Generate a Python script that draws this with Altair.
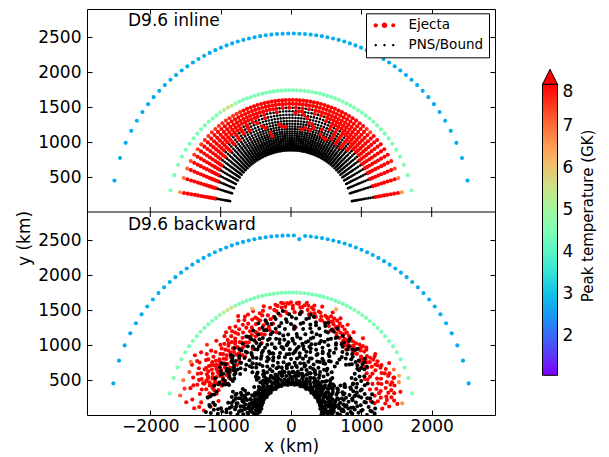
import altair as alt
import numpy as np
import pandas as pd

# ------------------------------------------------------------------ data
panel_labels = ["D9.6 inline", "D9.6 backward"]
kinds = ["Ejecta", "PNS/Bound"]
x_ticks = [-2000, -1000, 0, 1000, 2000]
y_ticks = [500, 1000, 1500, 2000, 2500]
cbar_ticks = [2, 3, 4, 5, 6, 7, 8]

# tracer ray angles (deg)
ray_theta = [10.14, 17.61, 22.80, 27.05, 30.75, 34.09, 37.17, 40.04, 42.75, 45.32,
             47.79, 50.16, 52.45, 54.68, 56.85, 58.96, 61.03, 63.05, 65.05, 67.01,
             68.94, 70.85, 72.73, 74.60, 76.45, 78.28, 80.10, 81.92, 83.72, 85.52,
             87.31, 89.10, 90.90, 92.69, 94.48, 96.28, 98.08, 99.90, 101.72, 103.55,
             105.40, 107.27, 109.15, 111.06, 112.99, 114.95, 116.95, 118.97, 121.04, 123.15,
             125.32, 127.55, 129.84, 132.21, 134.68, 137.25, 139.96, 142.83, 145.91, 149.25,
             152.95, 157.20, 162.39, 169.86]
# tracer shell radii (km), inline panel
shell_r = [880, 900, 920, 940, 960, 985, 1010, 1035, 1060, 1090, 1120, 1150, 1185,
           1220, 1260, 1300, 1345, 1390, 1440, 1490, 1545, 1600]
# radius where ejecta begin along each ray (inline)
inline_bound = [1195, 1190, 1190, 1200, 1200, 1210, 1215, 1225, 1230, 1240,
                1180, 1300, 1150, 1320, 1140, 1350, 1160, 1390, 1300, 1440,
                1380, 1470, 1420, 1490, 1400, 1500, 1450, 1510, 1420, 1520,
                1470, 1520, 1450, 1510, 1480, 1500, 1420, 1490, 1450, 1480,
                1380, 1460, 1420, 1450, 1380, 1430, 1300, 1400, 1280, 1380,
                1250, 1360, 1240, 1330, 1220, 1290, 1200, 1240, 1170, 1160,
                1130, 1110, 1100, 1090]
# peak temperature (GK) of outermost ejecta shell along each ray
inline_outer_T = [6.6, 6.9, 7.3, 7.7, 9, 9, 9, 9, 9, 7.4,
                  7.6, 9, 9, 9, 9, 9, 9, 9, 9, 9,
                  9, 9, 9, 9, 9, 9, 9, 9, 9, 9,
                  9, 9, 9, 9, 9, 9, 9, 9, 9, 9,
                  9, 9, 9, 9, 9, 9, 7.6, 7.6, 7.6, 7.6,
                  7.6, 7.6, 7.6, 7.6, 7.6, 7.6, 7.6, 7.5, 7.5, 7.5,
                  7.3, 7.1, 6.9, 6.6]
# peak temperature of the r~1750 km arc
green_T = [4.5, 4.5, 4.5, 4.5, 4.5, 4.5, 4.5, 4.5, 4.5, 4.5,
           4.5, 4.5, 4.5, 4.5, 4.5, 4.5, 4.5, 4.5, 4.5, 4.5,
           4.5, 4.5, 4.5, 4.5, 4.5, 4.5, 4.5, 4.5, 4.5, 4.5,
           4.5, 4.5, 4.5, 4.5, 4.5, 4.5, 4.5, 4.5, 4.5, 4.5,
           4.5, 4.5, 4.5, 4.5, 4.5, 4.5, 4.9, 5.5, 5.6, 5.2,
           4.8, 4.5, 4.5, 4.5, 4.5, 4.5, 4.5, 4.5, 4.5, 4.5,
           4.5, 4.5, 4.5, 4.5]
blue_T = 2.7
inline_blue_r = 2550
inline_green_r = 1740
# ejecta clumps inside the bound region (inline), km
blob_x = [-505, -481, -409, -362, -291, -268, -173, -125, -78, 64, 111, 182, 230,
          253, 301, 324, 419, 466, 490, 443, -623, -694, 150, 200, 270]
blob_y = [1343, 1272, 1225, 1201, 1130, 1083, 1248, 1225, 1215, 1414, 1438, 1390, 1343,
          1272, 1248, 1201, 1106, 1059, 1035, 1177, 1225, 1154, 1180, 1200, 1170]

# backward panel arcs
bw_blue_r = [2565, 2565, 2565, 2565, 2565, 2565, 2565, 2565, 2565, 2565,
             2565, 2565, 2565, 2565, 2565, 2565, 2565, 2565, 2565, 2565,
             2565, 2565, 2565, 2565, 2565, 2565, 2565, 2565, 2565, 2565,
             2515, 2565, 2565, 2565, 2565, 2565, 2565, 2565, 2565, 2565,
             2565, 2565, 2565, 2565, 2565, 2565, 2565, 2565, 2565, 2565,
             2565, 2565, 2565, 2565, 2565, 2565, 2565, 2565, 2565, 2565,
             2565, 2565, 2565, 2565]
bw_green_r = 1750
# backward ejecta (theta deg, r km), peak T >= 8
bw_red = [
    (177, 1240), (176, 1380), (174, 1150), (172, 1290), (171, 1420), (168, 1210), (167, 1330),
    (165, 1480), (164, 1100), (163, 1260), (162, 1400), (161, 1180), (169, 1050), (173, 1500),
    (175, 1310), (160, 1330),
    (141, 1160), (143, 1200), (145, 1240), (147, 1180), (149, 1220), (151, 1150), (153, 1190),
    (155, 1230), (157, 1170), (159, 1210), (142, 1290), (144, 1320), (146, 1280), (148, 1340),
    (150, 1300), (152, 1260), (154, 1330), (156, 1290), (158, 1250), (160, 1310), (140, 1400),
    (143, 1380), (146, 1420), (149, 1360), (152, 1390), (155, 1410), (158, 1370), (141, 1460),
    (144, 1480), (147, 1440), (150, 1500), (153, 1470), (156, 1450), (159, 1490), (142, 1100),
    (145, 1120), (148, 1080), (151, 1110), (154, 1090), (157, 1130), (145, 1560), (150, 1540),
    (148, 1610), (153, 1580),
    (101, 1330), (104, 1300), (107, 1340), (110, 1310), (113, 1290), (116, 1330), (119, 1280),
    (122, 1300), (125, 1270), (128, 1290), (131, 1260), (134, 1240), (137, 1250), (139, 1220),
    (102, 1400), (105, 1380), (108, 1420), (111, 1390), (114, 1370), (117, 1400), (120, 1360),
    (123, 1380), (126, 1350), (129, 1340), (132, 1330), (135, 1320), (138, 1300), (103, 1460),
    (106, 1480), (109, 1450), (112, 1470), (115, 1440), (118, 1460), (121, 1430), (124, 1420),
    (127, 1410), (130, 1400), (133, 1390), (136, 1370), (100, 1200), (108, 1210), (116, 1180),
    (124, 1190), (132, 1160), (112, 1110), (120, 1090), (128, 1060), (105, 1540), (115, 1550),
    (125, 1520), (135, 1500), (118, 1600), (110, 1580), (130, 1470),
    (71, 1500), (73, 1470), (75, 1530), (77, 1490), (79, 1560), (81, 1520), (83, 1580),
    (85, 1540), (87, 1600), (89, 1560), (91, 1590), (93, 1550), (95, 1610), (97, 1570),
    (99, 1520), (72, 1420), (76, 1440), (80, 1460), (84, 1480), (88, 1470), (92, 1450),
    (96, 1430), (74, 1610), (78, 1600), (82, 1620), (86, 1590), (90, 1610), (94, 1600),
    (98, 1590), (87, 1250),
    (41, 1380), (43, 1350), (45, 1330), (47, 1310), (49, 1300), (51, 1290), (53, 1310),
    (55, 1330), (57, 1350), (59, 1370), (61, 1390), (63, 1410), (65, 1430), (67, 1450),
    (69, 1470), (42, 1440), (44, 1420), (46, 1400), (48, 1380), (50, 1370), (52, 1380),
    (54, 1400), (56, 1420), (58, 1440), (60, 1460), (62, 1480), (64, 1500), (66, 1510),
    (68, 1520), (45, 1250), (50, 1220), (55, 1260), (60, 1300), (65, 1330), (47, 1500),
    (53, 1480), (58, 1520), (63, 1550), (68, 1580),
    (6, 1520), (8, 1480), (10, 1450), (12, 1500), (14, 1470), (16, 1530), (18, 1510),
    (20, 1550), (22, 1490), (24, 1460), (26, 1500), (28, 1440), (30, 1420), (32, 1450),
    (34, 1410), (36, 1390), (38, 1370), (7, 1350), (11, 1380), (15, 1320), (19, 1360),
    (23, 1330), (27, 1300), (31, 1340), (35, 1310), (39, 1290), (9, 1250), (13, 1220),
    (17, 1270), (21, 1240), (25, 1200), (29, 1230), (33, 1260), (37, 1280), (10, 1150),
    (18, 1180), (26, 1170), (34, 1210), (5, 1400), (12, 1590), (20, 1560), (28, 1580),
    (36, 1480),
    (126, 1180), (128, 1230), (130, 1150), (132, 1210), (134, 1280), (136, 1190), (138, 1140),
    (140, 1250), (142, 1200), (144, 1160), (146, 1350), (148, 1250), (150, 1190), (152, 1330),
    (154, 1240), (156, 1180), (158, 1300), (160, 1230), (162, 1150), (164, 1320), (127, 1320),
    (131, 1350), (135, 1420), (139, 1330), (143, 1270), (147, 1300), (151, 1380), (155, 1300),
    (159, 1400), (163, 1450), (129, 1100), (133, 1080), (137, 1050), (141, 1040), (145, 1060),
    (149, 1030), (153, 1050), (157, 1070), (161, 1090), (165, 1200), (124, 1250), (122, 1220),
    (120, 1200), (118, 1240), (116, 1270), (114, 1230), (112, 1260), (110, 1230), (106, 1270),
    (104, 1250),
    (16, 1400), (19, 1440), (22, 1380), (25, 1420), (28, 1360), (31, 1400), (34, 1350),
    (37, 1330), (40, 1300), (43, 1280), (46, 1270), (49, 1250), (52, 1260), (55, 1290),
    (58, 1300), (61, 1330), (64, 1360), (67, 1380), (70, 1400), (73, 1420), (76, 1450),
    (79, 1480), (17, 1480), (23, 1520), (29, 1470), (35, 1450), (41, 1420), (44, 1380),
    (48, 1330), (53, 1340), (57, 1380), (62, 1430), (66, 1460), (70, 1490), (74, 1520),
    (78, 1540), (14, 1290), (20, 1320), (26, 1250), (32, 1280), (38, 1240), (9, 1380),
    (11, 1300), (13, 1420), (8, 1200), (4, 1300),
    (81, 1580), (84, 1550), (86, 1610), (89, 1520), (92, 1600), (95, 1540), (98, 1500),
    (101, 1560), (104, 1600), (107, 1520), (110, 1480), (113, 1560), (116, 1510), (119, 1540),
    (122, 1490), (125, 1460), (128, 1500), (100, 1420), (93, 1480), (85, 1450),
]
# backward ejecta with lower peak temperature (theta deg, r km, T GK)
bw_warm = [(152, 1615, 6.9), (162, 1610, 6.9), (20, 1635, 6.4), (17, 1604, 6.8),
           (6, 1589, 6.6), (110, 1615, 6.3), (67, 1640, 6.5), (157, 1570, 7.3),
           (140, 1560, 7.6), (170, 1600, 7.2), (166, 1560, 7.5), (24, 1600, 7.0)]
# backward PNS/bound tracers (theta deg, r km)
bw_bound = [
    (0, 430), (2, 455), (4, 470), (1, 520), (3, 560), (5, 610), (2, 660), (0, 700), (4, 750),
    (1, 800), (3, 850), (5, 910), (2, 960), (4, 1020), (0, 1080), (3, 1130), (1, 1190), (5, 490),
    (6, 440), (8, 480), (10, 500), (7, 570), (9, 620), (11, 590), (8, 690), (6, 740), (10, 800),
    (7, 860), (9, 780), (11, 940), (8, 1000), (10, 1060), (6, 1110), (9, 1170), (7, 890), (11, 650),
    (12, 425), (14, 470), (16, 510), (13, 540), (15, 600), (17, 660), (14, 720), (12, 690),
    (16, 780), (13, 840), (15, 900), (17, 960), (14, 1030), (16, 1090), (12, 1150), (15, 550), (13, 610),
    (18, 435), (20, 460), (22, 495), (19, 560), (21, 630), (23, 580), (20, 700), (18, 760),
    (22, 820), (19, 880), (21, 950), (23, 1010), (20, 1070), (22, 1130), (18, 660), (21, 520), (19, 990),
    (24, 450), (26, 430), (28, 520), (25, 570), (27, 610), (29, 680), (26, 740), (24, 800),
    (28, 860), (25, 930), (27, 990), (29, 1050), (26, 1110), (28, 1180), (24, 500), (27, 650),
    (30, 440), (32, 470), (34, 510), (31, 560), (33, 600), (35, 650), (32, 700), (30, 760),
    (34, 740), (31, 820), (33, 1080), (35, 1150), (32, 1230), (34, 1200), (30, 880), (33, 530), (31, 620),
    (36, 430), (38, 460), (40, 500), (37, 550), (39, 590), (41, 640), (38, 690), (36, 740),
    (40, 1130), (37, 1180), (39, 1240), (41, 1100), (38, 480), (40, 610), (36, 1290),
    (42, 440), (44, 475), (46, 520), (43, 560), (45, 600), (47, 650), (44, 700), (42, 760),
    (46, 1120), (43, 1170), (45, 1230), (47, 1280), (44, 470), (46, 580), (42, 790), (45, 1340),
    (48, 430), (50, 470), (52, 500), (49, 560), (51, 610), (53, 660), (50, 720), (48, 780),
    (52, 840), (49, 1100), (51, 1160), (53, 1220), (50, 1280), (52, 1340), (48, 930), (51, 540), (49, 1050),
    (54, 445), (56, 480), (58, 520), (55, 570), (57, 620), (59, 680), (56, 740), (54, 800),
    (58, 870), (55, 940), (57, 1000), (59, 1070), (56, 1140), (58, 1210), (54, 1280), (57, 1350),
    (55, 600), (59, 900),
    (60, 430), (62, 465), (64, 505), (61, 550), (63, 600), (65, 660), (62, 720), (60, 780),
    (64, 850), (61, 920), (63, 990), (65, 1060), (62, 1130), (64, 1200), (60, 1270), (63, 1340),
    (61, 700), (65, 520), (62, 1400),
    (66, 440), (68, 470), (70, 510), (67, 560), (69, 620), (71, 680), (68, 730), (66, 790),
    (70, 860), (67, 930), (69, 1000), (71, 1070), (68, 1140), (70, 1210), (66, 1290), (69, 1360),
    (67, 650), (71, 480), (68, 1420),
    (72, 430), (74, 460), (76, 500), (73, 550), (75, 610), (77, 670), (74, 740), (72, 800),
    (76, 870), (73, 940), (75, 1010), (77, 1080), (74, 1150), (76, 1220), (72, 1300), (75, 1370),
    (73, 590), (77, 1440), (74, 1050), (76, 760),
    (78, 450), (80, 480), (82, 520), (79, 570), (81, 630), (83, 690), (80, 750), (78, 820),
    (82, 890), (79, 960), (81, 1030), (83, 1100), (80, 1170), (82, 1240), (78, 1320), (81, 1390),
    (79, 1460), (83, 600), (80, 1000),
    (84, 435), (86, 470), (88, 505), (85, 560), (87, 620), (89, 680), (86, 750), (84, 810),
    (88, 880), (85, 950), (87, 1020), (89, 1090), (86, 1160), (88, 1230), (84, 1310), (87, 1380),
    (85, 1450), (89, 540), (86, 920), (88, 1270),
    (90, 440), (92, 465), (94, 510), (91, 555), (93, 610), (95, 670), (92, 730), (90, 800),
    (94, 870), (91, 940), (93, 1010), (95, 1080), (92, 1150), (94, 1230), (90, 1300), (93, 1370),
    (91, 1440), (95, 700), (92, 1040),
    (96, 430), (98, 475), (100, 515), (97, 560), (99, 620), (101, 690), (98, 760), (96, 830),
    (100, 900), (97, 970), (99, 1040), (101, 1110), (98, 1180), (100, 1250), (96, 1320), (99, 1390),
    (97, 1460), (101, 640), (98, 980),
    (102, 445), (104, 480), (106, 520), (103, 570), (105, 630), (107, 700), (104, 770), (102, 840),
    (106, 910), (103, 980), (105, 1050), (107, 1120), (104, 1190), (106, 1260), (102, 1330),
    (105, 1400), (103, 600), (107, 860),
    (108, 435), (110, 465), (112, 505), (109, 560), (111, 620), (113, 680), (110, 750), (108, 820),
    (112, 890), (109, 960), (111, 1030), (113, 1100), (110, 1170), (112, 1240), (108, 1310),
    (111, 540), (109, 930),
    (114, 440), (116, 470), (118, 515), (115, 570), (117, 630), (119, 700), (116, 770), (114, 840),
    (118, 910), (115, 980), (117, 1050), (119, 1120), (116, 1190), (118, 1260), (114, 1320),
    (117, 600), (115, 1080),
    (120, 430), (122, 460), (124, 500), (121, 555), (123, 610), (125, 670), (122, 740), (120, 810),
    (124, 880), (121, 950), (123, 1020), (125, 1090), (122, 1160), (124, 1230), (120, 520), (123, 700),
    (126, 445), (128, 480), (130, 520), (127, 570), (129, 630), (131, 700), (128, 770), (126, 840),
    (130, 910), (127, 980), (129, 1050), (131, 1120), (128, 1190), (130, 1250), (126, 600), (129, 880),
    (132, 430), (134, 465), (136, 505), (133, 560), (135, 920), (137, 980), (134, 1040), (132, 1100),
    (136, 1160), (133, 640), (135, 1210), (137, 450), (134, 700), (136, 530), (132, 820),
    (138, 440), (140, 475), (142, 510), (139, 560), (141, 930), (143, 990), (140, 1060), (138, 1120),
    (142, 1180), (139, 580), (141, 470), (143, 1230), (140, 520), (142, 1040),
    (144, 430), (146, 460), (148, 500), (145, 550), (147, 580), (149, 1000), (146, 1070), (144, 1130),
    (148, 1180), (145, 470), (147, 960), (149, 520), (146, 1220),
    (150, 445), (152, 480), (154, 520), (151, 570), (153, 620), (155, 1030), (152, 1090), (150, 1150),
    (154, 1200), (151, 590), (153, 680), (155, 460), (152, 740), (154, 980),
    (156, 435), (158, 470), (160, 505), (157, 560), (159, 610), (161, 660), (158, 720), (156, 780),
    (160, 840), (157, 1120), (159, 1170), (161, 540), (158, 890), (160, 450), (156, 1060),
    (162, 440), (164, 475), (166, 515), (163, 560), (165, 610), (167, 660), (164, 720), (162, 780),
    (166, 840), (163, 880), (165, 1130), (167, 1180), (164, 470), (166, 600), (162, 700),
    (168, 430), (170, 465), (172, 505), (169, 555), (171, 610), (173, 670), (170, 730), (168, 790),
    (172, 850), (169, 910), (171, 1120), (173, 1170), (170, 480), (172, 650), (168, 1210), (171, 560),
    (174, 445), (176, 480), (178, 520), (175, 570), (177, 620), (179, 680), (176, 740), (174, 800),
    (178, 860), (175, 920), (177, 980), (179, 1040), (176, 1100), (174, 1160), (178, 1210),
    (177, 500), (175, 700),
    (0.5, 445), (2.5, 590), (4.5, 720), (6.5, 460), (8.5, 580), (1.5, 870), (3.5, 1000),
    (5.5, 530), (7.5, 950), (9.5, 1080), (2.5, 1150), (6.5, 820), (8.5, 700), (4.5, 1200),
    (10.5, 455), (12.5, 560), (14.5, 640), (16.5, 450), (18.5, 600), (11.5, 760), (13.5, 900),
    (15.5, 1000), (17.5, 820), (19.5, 1050), (12.5, 1110), (16.5, 940), (18.5, 710), (14.5, 1190),
    (20.5, 440), (22.5, 600), (24.5, 710), (26.5, 470), (28.5, 560), (21.5, 800), (23.5, 930),
    (25.5, 1040), (27.5, 870), (29.5, 1120), (22.5, 1180), (26.5, 980), (28.5, 760), (24.5, 620),
    (30.5, 450), (32.5, 580), (34.5, 690), (36.5, 460), (38.5, 540), (31.5, 1010), (33.5, 1160),
    (35.5, 1250), (37.5, 1320), (39.5, 1190), (32.5, 1280), (36.5, 640), (38.5, 720), (34.5, 470),
    (40.5, 440), (42.5, 580), (44.5, 680), (46.5, 460), (48.5, 610), (41.5, 740), (43.5, 1210),
    (45.5, 1300), (47.5, 1180), (49.5, 1230), (42.5, 1060), (46.5, 840), (48.5, 990), (44.5, 520),
    (50.5, 455), (52.5, 570), (54.5, 700), (56.5, 470), (58.5, 620), (51.5, 810), (53.5, 950),
    (55.5, 1080), (57.5, 1190), (59.5, 1290), (52.5, 1380), (56.5, 880), (58.5, 1020), (54.5, 1240),
    (60.5, 445), (62.5, 590), (64.5, 730), (66.5, 460), (68.5, 620), (61.5, 860), (63.5, 1010),
    (65.5, 1150), (67.5, 1290), (69.5, 1400), (62.5, 1230), (66.5, 950), (68.5, 1100), (64.5, 1350),
    (70.5, 450), (72.5, 580), (74.5, 720), (76.5, 470), (78.5, 600), (71.5, 850), (73.5, 990),
    (75.5, 1130), (77.5, 1270), (79.5, 1410), (72.5, 1210), (76.5, 930), (78.5, 1060), (74.5, 1330),
    (80.5, 440), (82.5, 570), (84.5, 710), (86.5, 460), (88.5, 610), (81.5, 840), (83.5, 980),
    (85.5, 1120), (87.5, 1260), (89.5, 1400), (82.5, 1330), (86.5, 900), (88.5, 1060), (84.5, 1480),
    (90.5, 455), (92.5, 590), (94.5, 720), (96.5, 470), (98.5, 620), (91.5, 870), (93.5, 1000),
    (95.5, 1140), (97.5, 1280), (99.5, 1420), (92.5, 1330), (96.5, 950), (98.5, 1090), (94.5, 1490),
    (100.5, 445), (102.5, 580), (104.5, 710), (106.5, 460), (108.5, 600), (101.5, 850), (103.5, 990),
    (105.5, 1130), (107.5, 1270), (109.5, 1390), (102.5, 1210), (106.5, 920), (108.5, 1060), (104.5, 1350),
    (110.5, 450), (112.5, 590), (114.5, 720), (116.5, 470), (118.5, 610), (111.5, 860), (113.5, 1000),
    (115.5, 1140), (117.5, 1220), (119.5, 1290), (112.5, 1170), (116.5, 940), (118.5, 1070), (114.5, 530),
    (120.5, 440), (122.5, 580), (124.5, 700), (126.5, 460), (128.5, 600), (121.5, 850), (123.5, 980),
    (125.5, 1110), (127.5, 1160), (129.5, 760), (122.5, 1050), (126.5, 920), (128.5, 520), (124.5, 640),
    (130.5, 455), (132.5, 590), (134.5, 490), (136.5, 470), (138.5, 610), (131.5, 960), (133.5, 1030),
    (135.5, 1100), (137.5, 1140), (139.5, 1000), (132.5, 740), (136.5, 560), (138.5, 1080), (134.5, 1180),
    (140.5, 445), (142.5, 580), (144.5, 520), (146.5, 460), (148.5, 600), (141.5, 1010), (143.5, 1080),
    (145.5, 1110), (147.5, 1040), (149.5, 960), (142.5, 660), (146.5, 540), (148.5, 1130), (144.5, 990),
    (150.5, 450), (152.5, 590), (154.5, 700), (156.5, 470), (158.5, 620), (151.5, 780), (153.5, 1000),
    (155.5, 1120), (157.5, 760), (159.5, 690), (152.5, 1060), (156.5, 540), (158.5, 830), (154.5, 510),
    (160.5, 440), (162.5, 580), (164.5, 700), (166.5, 460), (168.5, 610), (161.5, 750), (163.5, 820),
    (165.5, 1160), (167.5, 780), (169.5, 690), (162.5, 1110), (166.5, 540), (168.5, 860), (164.5, 510),
    (170.5, 455), (172.5, 590), (174.5, 720), (176.5, 470), (178.5, 610), (171.5, 790), (173.5, 880),
    (175.5, 1040), (177.5, 920), (179.5, 760), (172.5, 1090), (176.5, 540), (178.5, 1140), (174.5, 1000),
]

# ------------------------------------------------------------------ layout constants
W, H_PANEL = 408, 203
PANEL_SPAN = 2900          # km spanned by each panel; the inline panel sits on top
FONT = "DejaVu Sans"


# ------------------------------------------------------------------ tables
def to_xy(theta, r):
    a = np.radians(np.asarray(theta, dtype=float))
    r = np.asarray(r, dtype=float)
    return r * np.cos(a), r * np.sin(a)


# inline (upper panel)
ej_t, ej_r, ej_T, bd_t, bd_r = [], [], [], [], []
for i, th in enumerate(ray_theta):
    for r in shell_r:
        if r >= inline_bound[i]:
            ej_t.append(th); ej_r.append(r)
            ej_T.append(inline_outer_T[i] if r == shell_r[-1] else 9.0)
        else:
            bd_t.append(th); bd_r.append(r)
    ej_t.append(th); ej_r.append(inline_green_r); ej_T.append(green_T[i])
    ej_t.append(th); ej_r.append(inline_blue_r); ej_T.append(blue_T)
x, y = to_xy(ej_t, ej_r)
inline_ej = pd.DataFrame({"x": x, "y": y + PANEL_SPAN, "T": ej_T})
x, y = to_xy(bd_t, bd_r)
inline_bd = pd.DataFrame({"x": x, "y": y + PANEL_SPAN})
inline_blobs = pd.DataFrame({"x": blob_x, "y": np.asarray(blob_y) + PANEL_SPAN,
                             "T": [9.0] * len(blob_x)})

# backward (lower panel)
t_list, r_list, T_list = [], [], []
for i, th in enumerate(ray_theta):
    t_list += [th, th]; r_list += [bw_blue_r[i], bw_green_r]; T_list += [blue_T, green_T[i]]
for th, r in bw_red:
    t_list.append(th); r_list.append(r); T_list.append(9.0)
for th, r, T in bw_warm:
    t_list.append(th); r_list.append(r); T_list.append(T)
x, y = to_xy(t_list, r_list)
bw_ej = pd.DataFrame({"x": x, "y": y, "T": T_list})
x, y = to_xy([p[0] for p in bw_bound], [p[1] for p in bw_bound])
bw_bd = pd.DataFrame({"x": x, "y": y})

all_ej = pd.concat([inline_ej, bw_ej], ignore_index=True)

# ------------------------------------------------------------------ style
xs = alt.Scale(domain=[-2900, 2900], nice=False, zero=False)
ys = alt.Scale(domain=[0, 2 * PANEL_SPAN], nice=False, zero=False)
y_tick_vals = y_ticks + [v + PANEL_SPAN for v in y_ticks]

rainbow = ["#8000ff", "#4062fa", "#00b4ec", "#40ecd4", "#80ffb4",
           "#bfec8e", "#ffb462", "#ff6232", "#ff0000"]
tmin, tmax = 1.05, 8.0
fill_scale = alt.Scale(domain=[float(v) for v in np.linspace(tmin, tmax, len(rainbow))],
                       range=rainbow, clamp=True, interpolate="rgb")
fill_legend = alt.Legend(
    title=None, orient="none", legendX=455.5, legendY=75.3,
    direction="vertical", gradientLength=291, gradientThickness=15,
    gradientStrokeColor="black", gradientStrokeWidth=1, values=cbar_ticks,
    labelFont=FONT, labelFontSize=17, labelColor="black", labelOffset=5, padding=0,
)


def circ(cx, r):
    return f"M{cx - r},0A{r},{r} 0 1,0 {cx + r},0A{r},{r} 0 1,0 {cx - r},0Z"


sym_ej = circ(-1.25, 0.31) + circ(0.0, 0.4) + circ(1.25, 0.29)
sym_pns = circ(-1.25, 0.17) + circ(0.0, 0.17) + circ(1.25, 0.17)
kind_legend = alt.Legend(
    title=None, orient="none", legendX=279, legendY=4.3, direction="vertical",
    symbolSize=196, symbolStrokeWidth=0, symbolOffset=6.5, labelFont=FONT,
    labelFontSize=13.5, labelColor="black", labelOffset=17, padding=5,
    strokeColor="black", fillColor="white", rowPadding=6,
)


def ax(orient, labels, title=None, **kw):
    vals = x_ticks if orient in ("top", "bottom") else y_tick_vals
    return alt.Axis(orient=orient, labels=labels, title=title, values=vals,
                    tickSize=5, offset=-5, domain=False, grid=False, tickColor="black",
                    tickWidth=1, labelFont=FONT, labelFontSize=17, labelColor="black",
                    titleFont=FONT, titleFontSize=17, titleFontWeight="normal",
                    titleColor="black", format="d", **kw)


x_main = ax("bottom", True, "x (km)", labelPadding=3, titlePadding=4)
y_main = ax("left", True, "y (km)", labelPadding=6, titlePadding=4, titleY=229,
            labelExpr=f"datum.value > {PANEL_SPAN} ? format(datum.value - {PANEL_SPAN}, 'd') : format(datum.value, 'd')")

ej_layer = alt.Chart(all_ej).mark_circle(size=17, opacity=1, clip=True).encode(
    x=alt.X("x:Q", scale=xs, axis=x_main),
    y=alt.Y("y:Q", scale=ys, axis=y_main),
    fill=alt.Fill("T:Q", scale=fill_scale, legend=fill_legend),
)
inline_bd_layer = alt.Chart(inline_bd).mark_circle(size=7, opacity=1, color="black", clip=True).encode(
    x=alt.X("x:Q", scale=xs, axis=ax("top", False)),
    y=alt.Y("y:Q", scale=ys, axis=ax("right", False)),
)
bw_bd_layer = alt.Chart(bw_bd).mark_circle(size=16, opacity=1, color="black", clip=True).encode(
    x=alt.X("x:Q", scale=xs, axis=None),
    y=alt.Y("y:Q", scale=ys, axis=None),
)
blob_layer = alt.Chart(inline_blobs).mark_circle(size=17, opacity=1, clip=True).encode(
    x=alt.X("x:Q", scale=xs, axis=None),
    y=alt.Y("y:Q", scale=ys, axis=None),
    fill=alt.Fill("T:Q", scale=fill_scale, legend=fill_legend),
)
# panel separator and its inward ticks (layout guides)
tick_len_km = 5 * (2 * PANEL_SPAN) / (2 * H_PANEL)
sep_df = pd.DataFrame({"x0": [-2900.0], "x1": [2900.0], "y": [float(PANEL_SPAN)]})
sep_layer = alt.Chart(sep_df).mark_rule(color="black", strokeWidth=1).encode(
    x=alt.X("x0:Q", scale=xs, axis=None), x2="x1:Q",
    y=alt.Y("y:Q", scale=ys, axis=None))
mid_df = pd.DataFrame({"x": x_ticks,
                       "y0": [PANEL_SPAN - tick_len_km] * len(x_ticks),
                       "y1": [PANEL_SPAN + tick_len_km] * len(x_ticks)})
mid_ticks = alt.Chart(mid_df).mark_rule(color="black", strokeWidth=1).encode(
    x=alt.X("x:Q", scale=xs, axis=None),
    y=alt.Y("y0:Q", scale=ys, axis=None), y2="y1:Q")

label_top = alt.Chart(pd.DataFrame({"label": [panel_labels[0]]})).mark_text(
    align="left", baseline="middle", font=FONT, fontSize=17, color="black"
).encode(x=alt.value(41), y=alt.value(12), text="label:N")
label_bot = alt.Chart(pd.DataFrame({"label": [panel_labels[1]]})).mark_text(
    align="left", baseline="middle", font=FONT, fontSize=17, color="black"
).encode(x=alt.value(41), y=alt.value(H_PANEL + 13), text="label:N")

legend_layer = alt.Chart(pd.DataFrame({"kind": kinds})).transform_filter("false").mark_point(
    filled=True, opacity=1, size=196).encode(
    color=alt.Color("kind:N", scale=alt.Scale(domain=kinds, range=["#ff0000", "#000000"]),
                    legend=kind_legend),
    shape=alt.Shape("kind:N", scale=alt.Scale(domain=kinds, range=[sym_ej, sym_pns]),
                    legend=kind_legend),
)
tri_layer = alt.Chart(pd.DataFrame({"k": [0]})).mark_point(
    shape="M-1,1L1,1L0,-1Z", filled=True, fill="#ff0000", stroke="black", strokeWidth=1,
    size=225, opacity=1).encode(x=alt.value(463), y=alt.value(67.8))
cbar_title = alt.Chart(pd.DataFrame({"t": ["Peak temperature (GK)"]})).mark_text(
    angle=270, align="center", baseline="middle", font=FONT, fontSize=15, color="black"
).encode(x=alt.value(500.5), y=alt.value(207), text="t:N")

chart = alt.layer(
    ej_layer, inline_bd_layer, bw_bd_layer, blob_layer, sep_layer, mid_ticks,
    label_top, label_bot, legend_layer, tri_layer, cbar_title,
).resolve_axis(x="independent", y="independent").properties(
    width=W, height=2 * H_PANEL,
    padding={"left": 7, "top": 0, "right": 5, "bottom": 0},
    background="white",
).configure_view(stroke="black", strokeWidth=1)

chart.save("out.html", embed_options={"renderer": "svg", "actions": False})
